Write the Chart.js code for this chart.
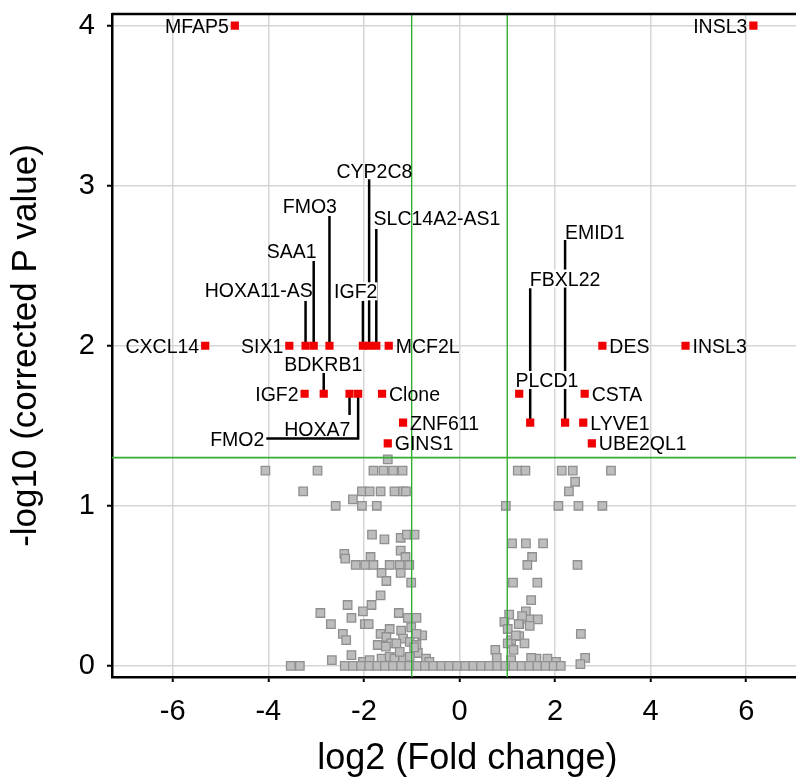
<!DOCTYPE html>
<html>
<head>
<meta charset="utf-8">
<script src="https://cdn.jsdelivr.net/npm/chart.js@4.4.1/dist/chart.umd.min.js"></script>
<style>
  html, body { margin: 0; padding: 0; background: #fff; overflow: hidden; }
  #wrap { width: 796px; height: 781px; overflow: hidden; }
  canvas { display: block; }
</style>
</head>
<body>
<div id="wrap"><canvas id="volcano" width="830" height="781"></canvas></div>
<script>
// significant genes (red)
const geneNames = ["MFAP5", "INSL3", "CXCL14", "SIX1", "HOXA11-AS", "SAA1", "FMO3", "IGF2", "CYP2C8",
  "SLC14A2-AS1", "MCF2L", "DES", "INSL3", "IGF2", "BDKRB1", "HOXA7", "FMO2", "Clone", "PLCD1", "CSTA",
  "ZNF611", "FBXL22", "EMID1", "LYVE1", "GINS1", "UBE2QL1"];
const sigLog2FC = [-4.70, 6.15, -5.32, -3.56, -3.22, -3.05, -2.72, -2.02, -1.89,
  -1.74, -1.48, 2.99, 4.73, -3.24, -2.84, -2.30, -2.12, -1.62, 1.25, 2.62,
  -1.18, 1.48, 2.21, 2.59, -1.50, 2.77];
const sigLogP = [4.0, 4.0, 2.0, 2.0, 2.0, 2.0, 2.0, 2.0, 2.0,
  2.0, 2.0, 2.0, 2.0, 1.70, 1.70, 1.70, 1.70, 1.70, 1.70, 1.70,
  1.52, 1.52, 1.52, 1.52, 1.39, 1.39];

// not significant genes (grey)
const nsLog2FC = [
  -4.06, -2.97, -1.80, -1.59, -1.39, -1.19, -1.50, 1.22, 1.38, 2.14, 2.37, 3.17, 2.42, 2.29,
  -3.27, -2.04, -1.88, -1.65, -1.36, -1.18, -1.12, -2.23, -2.59, -2.04, -1.73, 0.97, 2.07, 2.49, 2.99,
  -1.83, -1.57, -1.23, -1.10, -0.94, -2.41, -2.39, -1.86, -1.23, -1.13,
  -2.17, -1.97, -1.80, -1.46, -1.25, -1.05, -1.63, -1.23, -1.53, -1.01, -1.65, -2.34, -1.84, -2.02, -2.91,
  -2.26, -2.69, -1.98, -1.90, -1.27, -1.08, -0.90, -2.44, -2.37, -1.65, -1.46, -1.22, -1.01, -0.78, -0.90,
  -1.53, -1.43, -1.18, -1.71, -1.54, -1.32, -1.04, -0.90, -0.87, -0.95,
  -2.26, -2.67, -2.02, -1.88, -1.63, -1.46, -1.36, -1.18, -1.04, -1.25, -0.70, -0.63, -3.53, -3.34,
  1.10, 1.39, 1.75, 1.52, 1.42, 2.47, 1.12, 1.63,
  1.50, 1.39, 1.04, 0.94, 1.25, 1.46, 1.64, 1.31, 1.01, 2.54, 1.25, 1.08, 1.36, 1.18, 1.01,
  0.75, 1.13, 2.63, 2.53, 0.78, 1.08, 1.61, 1.84, 2.02, 1.47, 1.24, 1.50,
  -2.40, -2.23, -2.06, -1.89, -1.72, -1.56, -1.39, -1.22, -1.05, -0.88, -0.72, -0.55, -0.38, -0.22,
  -0.05, 0.12, 0.29, 0.45, 0.62, 0.79, 0.96, 1.13, 1.30, 1.46, 1.63, 1.80, 1.97, 2.12
];
const nsLogP = [
  1.22, 1.22, 1.22, 1.22, 1.22, 1.22, 1.29, 1.22, 1.22, 1.22, 1.22, 1.22, 1.15, 1.09,
  1.09, 1.09, 1.09, 1.09, 1.09, 1.09, 1.09, 1.04, 1.00, 1.00, 1.00, 1.00, 1.00, 1.00, 1.00,
  0.82, 0.79, 0.80, 0.82, 0.82, 0.70, 0.67, 0.68, 0.72, 0.68,
  0.63, 0.63, 0.63, 0.63, 0.63, 0.63, 0.58, 0.58, 0.53, 0.52, 0.44, 0.38, 0.38, 0.34, 0.33,
  0.30, 0.26, 0.26, 0.26, 0.33, 0.30, 0.30, 0.20, 0.16, 0.20, 0.23, 0.22, 0.24, 0.19, 0.20,
  0.18, 0.14, 0.17, 0.13, 0.12, 0.14, 0.15, 0.13, 0.08, 0.115,
  0.067, 0.035, 0.025, 0.035, 0.045, 0.056, 0.045, 0.045, 0.056, 0.087, 0.045, 0.025, 0, 0,
  0.765, 0.765, 0.765, 0.68, 0.63, 0.63, 0.52, 0.52,
  0.41, 0.34, 0.32, 0.275, 0.26, 0.29, 0.29, 0.31, 0.23, 0.20, 0.185, 0.16, 0.14, 0.19, 0.14,
  0.10, 0.10, 0.05, 0.01, 0.05, 0.035, 0.045, 0.045, 0.025, 0.25, 0.26, 0.05,
  0, 0, 0, 0, 0, 0, 0, 0, 0, 0, 0, 0, 0, 0,
  0, 0, 0, 0, 0, 0, 0, 0, 0, 0, 0, 0, 0, 0
];

// cut-offs
const fcCut = [-1, 1];
const pCut = 1.301;

const xTicks = [-6, -4, -2, 0, 2, 4, 6];
const yTicks = [0, 1, 2, 3, 4];
const xMin = -7.27, xMax = 7.6, yMin = -0.07, yMax = 4.073;

// label placement (index into geneNames)
const sideLabels = [[0, "l"], [1, "l"], [2, "l"], [3, "l"], [10, "r"], [11, "r"], [12, "r"], [13, "l"],
  [17, "r"], [19, "r"], [20, "r"], [23, "r"], [24, "r"], [25, "r"]];
// [index, line end y, label x, label y, white box]
const leaderLabels = [
  [4, 2.28, -4.20, 2.35, false],
  [5, 2.53, -3.51, 2.59, false],
  [6, 2.81, -3.13, 2.875, false],
  [7, 2.28, -2.17, 2.34, true],
  [8, 3.04, -1.78, 3.09, false],
  [9, 2.73, -0.47, 2.80, false],
  [14, 1.83, -2.85, 1.886, false],
  [15, 1.567, -2.975, 1.48, false],
  [21, 2.36, 2.21, 2.42, true],
  [22, 2.66, 2.83, 2.71, false],
  [18, null, 1.83, 1.786, true]
];
// FMO2: down then left
const elbowLabel = [16, 1.42, -4.04];

const FONT = "'Liberation Sans', Arial, sans-serif";
const LABEL_SIZE = 19.5;

const sigPoints = sigLog2FC.map((x, i) => ({ x: x, y: sigLogP[i] }));
const nsPoints = nsLog2FC.map((x, i) => ({ x: x, y: nsLogP[i] }));

function putText(ctx, text, x, y, align, box) {
  ctx.textAlign = align;
  const w = ctx.measureText(text).width;
  if (box) {
    const left = align === "center" ? x - w / 2 : (align === "right" ? x - w : x);
    ctx.fillStyle = "#fff";
    ctx.fillRect(left, y - 9, w, 18);
  }
  ctx.fillStyle = "#000";
  ctx.fillText(text, x, y + 0.36 * LABEL_SIZE);
}

const geneLabels = {
  id: "geneLabels",
  beforeDatasetsDraw(chart) {
    const ctx = chart.ctx, xs = chart.scales.x, ys = chart.scales.y;
    ctx.save();
    ctx.strokeStyle = "#000";
    ctx.lineWidth = 2.5;
    ctx.beginPath();
    leaderLabels.forEach(([i, yEnd]) => {
      if (yEnd === null) return;
      const px = xs.getPixelForValue(sigLog2FC[i]);
      ctx.moveTo(px, ys.getPixelForValue(sigLogP[i]));
      ctx.lineTo(px, ys.getPixelForValue(yEnd));
    });
    const [ei, ey, ex] = elbowLabel;
    const epx = xs.getPixelForValue(sigLog2FC[ei]);
    ctx.moveTo(epx, ys.getPixelForValue(sigLogP[ei]));
    ctx.lineTo(epx, ys.getPixelForValue(ey));
    ctx.lineTo(xs.getPixelForValue(ex), ys.getPixelForValue(ey));
    ctx.stroke();
    ctx.restore();
  },
  afterDatasetsDraw(chart) {
    const ctx = chart.ctx, xs = chart.scales.x, ys = chart.scales.y;
    const area = chart.chartArea;
    ctx.save();
    // top frame line
    ctx.strokeStyle = "#000";
    ctx.lineWidth = 2.5;
    ctx.beginPath();
    ctx.moveTo(area.left, area.top);
    ctx.lineTo(area.right, area.top);
    ctx.stroke();

    ctx.font = LABEL_SIZE + "px " + FONT;
    ctx.textBaseline = "alphabetic";
    sideLabels.forEach(([i, side]) => {
      const px = xs.getPixelForValue(sigLog2FC[i]);
      const py = ys.getPixelForValue(sigLogP[i]);
      if (side === "l") putText(ctx, geneNames[i], px - 6, py, "right", false);
      else putText(ctx, geneNames[i], px + 7, py, "left", false);
    });
    leaderLabels.forEach(([i, yEnd, lx, ly, box]) => {
      putText(ctx, geneNames[i], xs.getPixelForValue(lx), ys.getPixelForValue(ly), "center", box);
    });
    const [ei, ey, ex] = elbowLabel;
    putText(ctx, geneNames[ei], xs.getPixelForValue(ex) - 2, ys.getPixelForValue(ey), "right", false);
    ctx.restore();
  }
};

const green = "#33ad33";

new Chart(document.getElementById("volcano"), {
  type: "scatter",
  data: {
    datasets: [
      {
        label: "significant",
        data: sigPoints,
        pointStyle: "rect",
        pointRadius: 5.8,
        backgroundColor: "#f00000",
        borderColor: "#f00000",
        borderWidth: 0,
        order: 0
      },
      {
        type: "line",
        data: [{ x: fcCut[0], y: yMin }, { x: fcCut[0], y: yMax }],
        borderColor: green, borderWidth: 1.4, pointRadius: 0, order: 1
      },
      {
        type: "line",
        data: [{ x: fcCut[1], y: yMin }, { x: fcCut[1], y: yMax }],
        borderColor: green, borderWidth: 1.4, pointRadius: 0, order: 1
      },
      {
        type: "line",
        data: [{ x: xMin, y: pCut }, { x: xMax, y: pCut }],
        borderColor: green, borderWidth: 1.8, pointRadius: 0, order: 1
      },
      {
        label: "not significant",
        data: nsPoints,
        pointStyle: "rect",
        pointRadius: 6.0,
        backgroundColor: "#bdbdbd",
        borderColor: "#8f8f8f",
        borderWidth: 1.3,
        order: 2
      }
    ]
  },
  options: {
    responsive: false,
    animation: false,
    devicePixelRatio: 1,
    layout: { padding: { top: 14, left: 0, right: 0, bottom: 0 } },
    plugins: { legend: { display: false }, tooltip: { enabled: false } },
    scales: {
      x: {
        type: "linear",
        min: xMin,
        max: xMax,
        afterBuildTicks: s => { s.ticks = xTicks.map(v => ({ value: v })); },
        afterFit: s => { s.height = 104; s.paddingLeft = 0; s.paddingRight = 0; },
        ticks: {
          font: { family: FONT, size: 29 },
          color: "#000",
          padding: 13
        },
        grid: { color: "#d6d6d6", lineWidth: 1.5, tickColor: "#000", tickWidth: 2, tickLength: 5 },
        border: { color: "#000", width: 2.5 },
        title: {
          display: true,
          text: "log2 (Fold change)",
          color: "#000",
          font: { family: FONT, size: 36 },
          padding: { top: 0, bottom: 0 }
        }
      },
      y: {
        type: "linear",
        min: yMin,
        max: yMax,
        afterBuildTicks: s => { s.ticks = yTicks.map(v => ({ value: v })); },
        afterFit: s => { s.width = 112; s.paddingTop = 0; s.paddingBottom = 0; },
        ticks: {
          font: { family: FONT, size: 29, lineHeight: 0.9 },
          color: "#000",
          padding: 12
        },
        grid: { color: "#d6d6d6", lineWidth: 1.5, tickColor: "#000", tickWidth: 2, tickLength: 5 },
        border: { color: "#000", width: 2.5 },
        title: {
          display: true,
          text: "-log10 (corrected P value)",
          color: "#000",
          font: { family: FONT, size: 35 },
          padding: { top: 5, bottom: 0 }
        }
      }
    }
  },
  plugins: [geneLabels]
});
</script>
</body>
</html>
